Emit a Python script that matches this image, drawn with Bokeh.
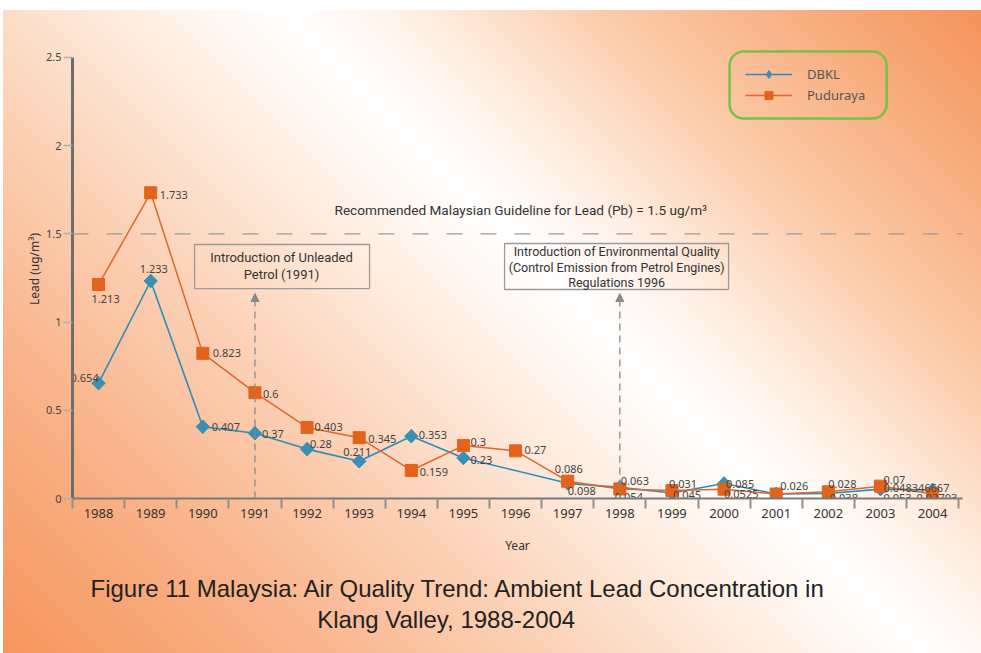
import numpy as np
from bokeh.plotting import figure
from bokeh.models import (ColumnDataSource, Range1d, FixedTicker, Span, Label, BoxAnnotation,
                          Arrow, NormalHead, Legend, LegendItem, Title)
from bokeh.core.properties import value
from bokeh.embed import file_html
from bokeh.resources import INLINE

# ---------------- data ----------------
years = list(range(1988, 2005))
dbkl = [0.654, 1.233, 0.407, 0.37, 0.28, 0.211, 0.353, 0.23, None, 0.086,
        0.063, 0.031, 0.085, 0.026, 0.028, 0.053, 0.048346667]
puduraya = [1.213, 1.733, 0.823, 0.6, 0.403, 0.345, 0.159, 0.3, 0.27, 0.098,
            0.054, 0.045, 0.0525, 0.0254, 0.038, 0.07, 0.02703]
series_names = ["DBKL", "Puduraya"]
y_ticks = [0, 0.5, 1, 1.5, 2, 2.5]
guideline = 1.5
guideline_text = "Recommended Malaysian Guideline for Lead (Pb) = 1.5 ug/m\u00b3"
event_years = [1991, 1998]
event_texts = ["Introduction of Unleaded\nPetrol (1991)",
               "Introduction of Environmental Quality\n(Control Emission from Petrol Engines)\nRegulations 1996"]
title_lines = ["Figure 11 Malaysia:  Air Quality Trend: Ambient Lead Concentration in",
               "Klang Valley, 1988-2004"]

# ---------------- label offsets (style, px) ----------------
dbkl_dx = [-28, -11, 9, 7, 3, -16, 7.5, 7, 0, -13, 1, -3, 2, 4, 0, 3, -49]
dbkl_dy = [-5, -12, 0, 1, -5, -9, -1, 2, 0, -14, -6, -9, 0, -8, -10, 9, -2]
pud_dx = [-7, 9, 10, 8, 7.5, 9, 8.5, 7, 9, 0, -5, 1, 0, 0, 1.5, 3, -16]
pud_dy = [14, 2, 0, 1, 0, 1, 2, -4, -1, 10, 8, 4, 5, 7.5, 6, -6, 4]

FONT = "Noto Sans"
NARROW = "Roboto"

def series_source(vals, dx, dy):
    xs, ys, tx, ox, oy = [], [], [], [], []
    for yr, v, a, b in zip(years, vals, dx, dy):
        if v is None:
            continue
        xs.append(yr); ys.append(v); tx.append(str(v)); ox.append(a); oy.append(b)
    return ColumnDataSource(dict(x=xs, y=ys, text=tx, dx=ox, dy=oy))

src_d = series_source(dbkl, dbkl_dx, dbkl_dy)
src_p = series_source(puduraya, pud_dx, pud_dy)

p = figure(width=981, height=653,
           x_range=Range1d(1987.5, 2004.574), y_range=Range1d(0, 2.602),
           output_backend="svg", toolbar_location=None,
           min_border_left=72, min_border_right=19, min_border_top=39, min_border_bottom=155)
p.styles = {
    "background-color": "white",
    "background-image": "linear-gradient(45deg, #f6965c 0%, #f9b085 17%, #fcd6bd 36%, #fff3ea 50%, #ffffff 57%, #fff1e7 64%, #fbc8a4 78%, #f5935a 100%)",
    "background-repeat": "no-repeat",
    "background-position": "3px 10px",
    "background-size": "978px 643px",
}
p.border_fill_color = None
p.background_fill_color = None
p.outline_line_color = None
p.grid.visible = False

# guideline
p.add_layout(Span(location=guideline, dimension="width", line_color="#9a9a9a",
                  line_width=1.2, line_dash="16 18"))
p.add_layout(Label(x=1996.1, y=guideline + 0.133, text=guideline_text, text_align="center",
                   text_baseline="middle", text_font=NARROW, text_font_size="13.6px",
                   text_color="#333333"))

# event boxes and arrows
box_specs = [(1989.842, 1993.199, 1.440, 1.190, 1991.51, 1.318, "13px", 1.12),
             (1995.789, 2000.086, 1.4456, 1.1848, 1997.94, 1.312, "12.5px", 1.03)]
for (l, r, t, b, cx, cy, fs, lh), txt in zip(box_specs, event_texts):
    p.add_layout(BoxAnnotation(left=l, right=r, top=t, bottom=b, fill_color=None,
                               line_color="#9a9a9a", line_alpha=1, line_width=1.3))
    p.add_layout(Label(x=cx, y=cy, text=txt, text_align="center", text_baseline="middle",
                       text_font=NARROW, text_font_size=fs, text_color="#333333",
                       text_line_height=lh))
for yr in event_years:
    p.add_layout(Arrow(end=NormalHead(size=8, fill_color="#8a8a8a", line_color="#8a8a8a"),
                       x_start=yr, y_start=0, x_end=yr, y_end=1.162,
                       line_color="#8a8a8a", line_width=1.3, line_dash="7 5"))

# series
BLUE_L, BLUE_M = "#2a8dba", "#3a90b4"
OR_L, OR_M = "#e0662c", "#e2631c"
dl = p.line("x", "y", source=src_d, line_color=BLUE_L, line_width=1.6)
pl = p.line("x", "y", source=src_p, line_color=OR_L, line_width=1.5)
# diamonds (mostly hidden under the rotated squares); used for the legend symbol
ds_leg = p.scatter("x", "y", source=src_d, marker="diamond", size=13.5,
                   fill_color=BLUE_M, line_color=BLUE_M)
ds = p.scatter("x", "y", source=src_d, marker="square", angle=np.pi / 4, size=9.5,
               fill_color=BLUE_M, line_color=BLUE_M)
ps = p.scatter("x", "y", source=src_p, marker="square", size=12,
               fill_color=OR_M, line_color=OR_M)

for src in (src_d, src_p):
    p.text("x", "y", text="text", x_offset="dx", y_offset="dy", source=src,
           text_font=value(FONT), text_font_size="11px", text_color="#444444",
           text_align="left", text_baseline="middle")

# legend
p.add_layout(BoxAnnotation(left=2000.106, right=2003.118, top=2.534, bottom=2.154,
                           fill_color=None, line_color="#7bbf45", line_alpha=1,
                           line_width=2.5, border_radius=14))
legend = Legend(items=[LegendItem(label=series_names[0], renderers=[dl, ds_leg]),
                       LegendItem(label=series_names[1], renderers=[pl, ps])],
                location=(673, 393), glyph_width=47, glyph_height=20, label_height=20,
                label_standoff=15, spacing=1, padding=0, margin=0,
                border_line_color=None, background_fill_alpha=0,
                label_text_font=FONT, label_text_font_size="13px", label_text_color="#555555")
p.add_layout(legend)

# axes
xa = p.xaxis[0]
xa.ticker = FixedTicker(ticks=years, minor_ticks=[y - 0.5 for y in years] + [years[-1] + 0.5])
xa.bounds = (1987.5, 2004.574)
xa.axis_line_color = "#7a7a7a"
xa.axis_line_width = 2
xa.major_tick_line_color = None
xa.major_tick_out = 0
xa.major_tick_in = 0
xa.minor_tick_line_color = "#8f8f8f"
xa.minor_tick_line_width = 2
xa.minor_tick_out = 10
xa.minor_tick_in = 0
xa.major_label_standoff = 0
xa.major_label_text_font = FONT
xa.major_label_text_font_size = "13px"
xa.major_label_text_color = "#333333"
xa.axis_label = "Year"
xa.axis_label_text_font = FONT
xa.axis_label_text_font_size = "12px"
xa.axis_label_text_font_style = "normal"
xa.axis_label_text_color = "#333333"
xa.axis_label_standoff = 16

ya = p.yaxis[0]
ya.ticker = FixedTicker(ticks=y_ticks)
ya.major_label_overrides = {t: f"{t:g}" for t in y_ticks}
ya.bounds = (0, 2.5)
ya.axis_line_color = "#6d6d6d"
ya.axis_line_width = 3
ya.major_tick_line_color = "#b0b0b0"
ya.major_tick_line_width = 1.5
ya.major_tick_out = 9
ya.major_tick_in = 0
ya.minor_tick_line_color = None
ya.major_label_standoff = 2
ya.major_label_text_font = FONT
ya.major_label_text_font_size = "11px"
ya.major_label_text_color = "#444444"
ya.axis_label = "Lead (ug/m\u00b3)"
ya.axis_label_text_font = FONT
ya.axis_label_text_font_size = "12px"
ya.axis_label_text_font_style = "normal"
ya.axis_label_text_color = "#333333"
ya.axis_label_standoff = 0

# caption: one two-line title; second line indented with no-break spaces
caption = title_lines[0] + "\n" + "\u00a0" * 34 + title_lines[1]
p.add_layout(Title(text=caption, align="left", offset=18, standoff=33,
                   text_font="Liberation Sans", text_font_size="24px",
                   text_font_style="normal", text_color="#222222",
                   text_line_height=1.16), "below")

open("out.html", "w").write(file_html(p, INLINE))
